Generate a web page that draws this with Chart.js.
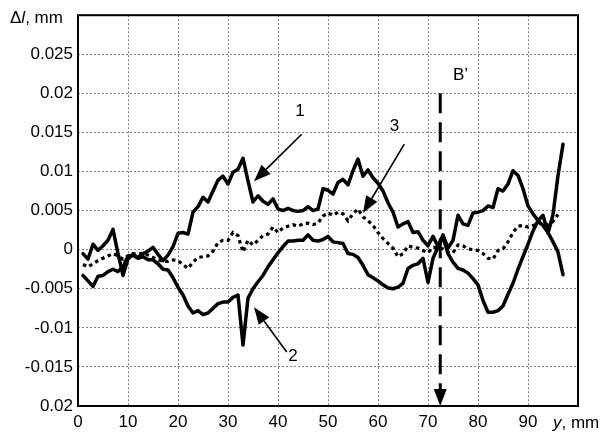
<!DOCTYPE html>
<html><head><meta charset="utf-8">
<script src="https://cdn.jsdelivr.net/npm/chart.js@4.4.0/dist/chart.umd.min.js"></script>
<style>html,body{margin:0;padding:0;background:#fff;}#wrap{width:616px;height:435px;}</style>
</head><body><div id="wrap"><canvas id="c" width="616" height="435"></canvas></div>
<script>
// ---------- data ----------
const positions = [1,2,3,4,5,6,7,8,9,10,11,12,13,14,15,16,17,18,19,20,21,22,23,24,25,26,27,28,29,30,31,32,33,34,35,36,37,38,39,40,41,42,43,44,45,46,47,48,49,50,51,52,53,54,55,56,57,58,59,60,61,62,63,64,65,66,67,68,69,70,71,72,73,74,75,76,77,78,79,80,81,82,83,84,85,86,87,88,89,90,91,92,93,94,95,96,97];
const curve1 = [-0.0005,-0.0012,0.0007,-0.0001,0.0005,0.0012,0.0026,-0.0005,-0.0033,-0.0012,
 -0.0006,-0.0010,-0.0005,-0.0002,0.0003,-0.0006,-0.0014,-0.0007,0.0004,0.0021,
 0.0022,0.0020,0.0048,0.0055,0.0067,0.0061,0.0075,0.0089,0.0094,0.0084,
 0.0099,0.0103,0.0117,0.0088,0.0061,0.0069,0.0062,0.0058,0.0065,0.0052,
 0.0050,0.0053,0.0050,0.0049,0.0050,0.0055,0.0050,0.0052,0.0078,0.0076,
 0.0071,0.0086,0.0090,0.0083,0.0101,0.0116,0.0094,0.0102,0.0092,0.0085,
 0.0075,0.0060,0.0048,0.0029,0.0033,0.0036,0.0022,0.0023,0.0012,0.0005,
 0.0017,0.0004,0.0019,0.0002,0.0012,0.0044,0.0033,0.0031,0.0047,0.0048,
 0.0050,0.0056,0.0054,0.0078,0.0075,0.0084,0.0101,0.0095,0.0078,0.0056,
 0.0046,0.0037,0.0031,0.0022,0.0010,-0.0003,-0.0032];
const curve2 = [-0.0033,-0.0040,-0.0047,-0.0034,-0.0033,-0.0028,-0.0025,-0.0028,-0.0022,-0.0008,
 -0.0007,-0.0011,-0.0009,-0.0013,-0.0013,-0.0018,-0.0025,-0.0026,-0.0036,-0.0048,
 -0.0058,-0.0072,-0.0081,-0.0078,-0.0083,-0.0081,-0.0075,-0.0069,-0.0067,-0.0067,
 -0.0061,-0.0058,-0.0122,-0.0062,-0.0050,-0.0041,-0.0033,-0.0022,-0.0013,-0.0004,
 0.0004,0.0011,0.0011,0.0012,0.0012,0.0019,0.0012,0.0011,0.0013,0.0017,
 0.0010,0.0009,0.0008,-0.0005,-0.0006,-0.0010,-0.0020,-0.0032,-0.0036,-0.0040,
 -0.0045,-0.0049,-0.0050,-0.0048,-0.0043,-0.0024,-0.0020,-0.0018,-0.0011,-0.0042,
 -0.0011,0.0003,0.0016,-0.0005,-0.0016,-0.0024,-0.0026,-0.0030,-0.0037,-0.0045,
 -0.0065,-0.0080,-0.0080,-0.0078,-0.0072,-0.0057,-0.0043,-0.0025,-0.0009,0.0007,
 0.0024,0.0037,0.0044,0.0021,0.0045,0.0095,0.0135];
const curve3 = [-0.0019,-0.0022,-0.0018,-0.0014,-0.0011,-0.0008,-0.0005,-0.0008,-0.0012,-0.0008,
 -0.0005,-0.0006,-0.0004,-0.0007,-0.0010,-0.0013,-0.0015,-0.0015,-0.0013,-0.0014,
 -0.0019,-0.0024,-0.0016,-0.0010,-0.0009,-0.0008,-0.0002,0.0009,0.0012,0.0012,
 0.0022,0.0018,-0.0003,0.0012,0.0006,0.0012,0.0018,0.0020,0.0029,0.0022,
 0.0028,0.0030,0.0032,0.0030,0.0033,0.0034,0.0032,0.0034,0.0043,0.0047,
 0.0044,0.0048,0.0046,0.0037,0.0046,0.0052,0.0042,0.0037,0.0031,0.0022,
 0.0014,0.0008,0.0002,-0.0009,-0.0005,0.0005,0.0003,0.0002,-0.0001,-0.0004,
 0.0003,0.0003,0.0001,-0.0003,-0.0004,0.0006,0.0005,0.0001,0.0000,-0.0001,
 -0.0005,-0.0011,-0.0012,-0.0001,0.0001,0.0010,0.0022,0.0030,0.0031,0.0029,
 0.0031,0.0033,0.0034,0.0032,0.0036,0.0045];

const xTickValues = [0,10,20,30,40,50,60,70,80,90,100];
const xTickLabels = ['0','10','20','30','40','50','60','70','80','90',''];
const yTickValues = [-0.02,-0.015,-0.01,-0.005,0,0.005,0.01,0.015,0.02,0.025,0.03];
const yTickLabels = ['0.02','-0.015','-0.01','-0.005','0','0.005','0.01','0.015','0.02','0.025',''];

// annotation arrows, in data units: label, label position, tail, head tip
const arrowLabels = ['1','3','2'];
const arrowLabelX = [44.4, 63.3, 43.0];
const arrowLabelY = [0.01766, 0.01575, -0.0137];
const arrowTailX = [44.74, 65.26, 41.74];
const arrowTailY = [0.01477, 0.0135, -0.01309];
const arrowTipX  = [35.2, 57.0, 35.2];
const arrowTipY  = [0.00875, 0.00468, -0.00737];

const sectionLabel = 'B\u2019';
const sectionX = 72.45;
const sectionTop = 0.02;
const sectionBottom = -0.02;
const sectionLabelX = 76.5;
const sectionLabelY = 0.0223;

// ---------- chart ----------
const FONT = '"Liberation Sans", Arial, Helvetica, sans-serif';
Chart.defaults.font.family = FONT;
Chart.defaults.font.size = 17;
Chart.defaults.color = '#000';

function pts(arr){ return arr.map((v,i)=>({x: positions[i], y: v})); }

function head(ctx, x0, y0, x1, y1, L, W){
  const ang = Math.atan2(y1-y0, x1-x0);
  const bx = x1 - L*Math.cos(ang), by = y1 - L*Math.sin(ang);
  const px = -Math.sin(ang)*W/2, py = Math.cos(ang)*W/2;
  ctx.beginPath();
  ctx.moveTo(x1,y1); ctx.lineTo(bx+px, by+py); ctx.lineTo(bx-px, by-py); ctx.closePath();
  ctx.fill();
  return [bx, by];
}

function richText(ctx, parts, x, y){
  let cx = x;
  for (const p of parts){
    ctx.font = (p.it ? 'italic ' : '') + '17px ' + FONT;
    ctx.fillText(p.t, cx, y);
    cx += ctx.measureText(p.t).width;
  }
}

const annot = {
  id: 'annot',
  afterDatasetsDraw(chart){
    const {ctx, chartArea: a, scales: {x, y}} = chart;
    ctx.save();
    ctx.fillStyle = '#000'; ctx.strokeStyle = '#000';
    // frame
    ctx.lineWidth = 2;
    ctx.strokeRect(a.left, a.top, a.right - a.left, a.bottom - a.top);
    // section line B'
    const sx = x.getPixelForValue(sectionX);
    const sy0 = y.getPixelForValue(sectionTop);
    const sy1 = y.getPixelForValue(sectionBottom);
    ctx.lineWidth = 3;
    ctx.setLineDash([20, 9]);
    ctx.beginPath(); ctx.moveTo(sx, sy0); ctx.lineTo(sx, sy1 - 14); ctx.stroke();
    ctx.setLineDash([]);
    head(ctx, sx, sy0, sx, sy1, 17, 13);
    // arrows
    ctx.lineWidth = 1.6;
    for (let i = 0; i < arrowLabels.length; i++){
      const tx = x.getPixelForValue(arrowTailX[i]), ty = y.getPixelForValue(arrowTailY[i]);
      const hx = x.getPixelForValue(arrowTipX[i]), hy = y.getPixelForValue(arrowTipY[i]);
      const [bx, by] = head(ctx, tx, ty, hx, hy, 17, 13);
      ctx.beginPath(); ctx.moveTo(tx, ty); ctx.lineTo(bx, by); ctx.stroke();
      ctx.font = '17px ' + FONT; ctx.textAlign = 'center'; ctx.textBaseline = 'middle';
      ctx.fillText(arrowLabels[i], x.getPixelForValue(arrowLabelX[i]), y.getPixelForValue(arrowLabelY[i]));
    }
    ctx.font = '17px ' + FONT; ctx.textAlign = 'center'; ctx.textBaseline = 'middle';
    ctx.fillText(sectionLabel, x.getPixelForValue(sectionLabelX), y.getPixelForValue(sectionLabelY));
    // axis titles
    ctx.textAlign = 'left'; ctx.textBaseline = 'alphabetic';
    richText(ctx, [{t:'\u0394', it:false},{t:'l', it:true},{t:', mm', it:false}], 10, 23);
    richText(ctx, [{t:'y', it:true},{t:', mm', it:false}], 553, 428);
    ctx.restore();
  }
};

new Chart(document.getElementById('c'), {
  type: 'line',
  data: {
    datasets: [
      {data: pts(curve1), borderColor:'#000', borderWidth:3.5, pointRadius:0, tension:0, borderJoinStyle:'round', borderCapStyle:'round'},
      {data: pts(curve2), borderColor:'#000', borderWidth:3.5, pointRadius:0, tension:0, borderJoinStyle:'round', borderCapStyle:'round'},
      {data: pts(curve3), borderColor:'#000', borderWidth:3.2, pointRadius:0, tension:0, borderDash:[3.5,3.5], borderCapStyle:'butt'}
    ]
  },
  options: {
    responsive: false, animation: false, devicePixelRatio: 1,
    layout: {padding: {left:0, right:38, top:13, bottom:0}},
    plugins: {legend:{display:false}, tooltip:{enabled:false}, title:{display:false}},
    scales: {
      x: {
        type:'linear', min:0, max:100,
        afterBuildTicks: s => { s.ticks = xTickValues.map(v => ({value:v})); },
        afterFit: s => { s.height = 29; },
        ticks: {callback: (v, i) => xTickLabels[i], padding: 6, maxRotation:0, autoSkip:false},
        grid: {color:'#808080', lineWidth:1, drawTicks:false},
        border: {display:false, dash:[2,2]}
      },
      y: {
        type:'linear', min:-0.02, max:0.03,
        afterBuildTicks: s => { s.ticks = yTickValues.map(v => ({value:v})); },
        afterFit: s => { s.width = 78; },
        ticks: {callback: (v, i) => yTickLabels[i], padding: 5, autoSkip:false},
        grid: {color:'#808080', lineWidth:1, drawTicks:false},
        border: {display:false, dash:[2,2]}
      }
    }
  },
  plugins: [annot]
});
</script></body></html>
